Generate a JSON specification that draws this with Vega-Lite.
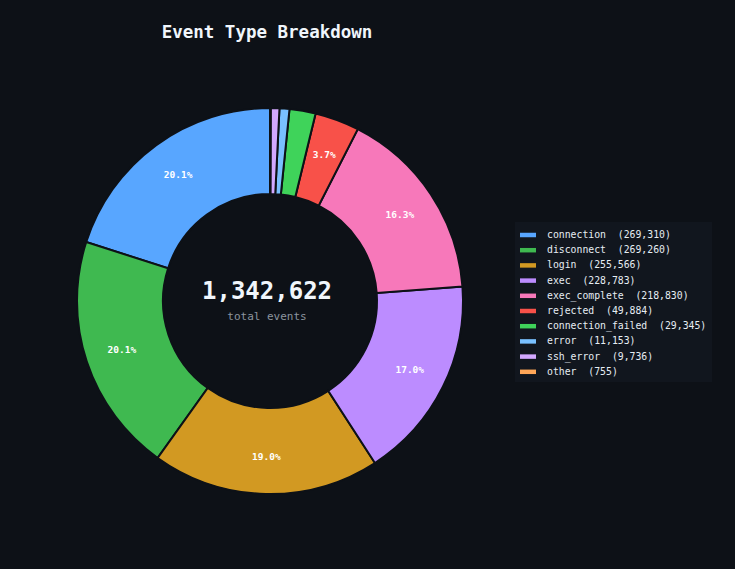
{
  "$schema": "https://vega.github.io/schema/vega-lite/v6.json",
  "description": "Donut chart of event types with total in the hole.",
  "background": "#0d1117",
  "autosize": {"type": "none"},
  "padding": {"left": 0, "top": 60, "right": 195, "bottom": 27},
  "width": 540,
  "height": 482,
  "title": {
    "text": "Event Type Breakdown",
    "font": "DejaVu Sans Mono",
    "fontSize": 17.5,
    "fontWeight": "bold",
    "color": "#f0f6fc",
    "anchor": "middle",
    "frame": "group",
    "offset": 19,
    "dx": -3
  },
  "data": {
    "values": [
      {"type": "connection", "rank": 1, "count": 269310, "label": "connection\u00a0\u00a0(269,310)", "pct": "20.1%"},
      {"type": "disconnect", "rank": 2, "count": 269260, "label": "disconnect\u00a0\u00a0(269,260)", "pct": "20.1%"},
      {"type": "login", "rank": 3, "count": 255566, "label": "login\u00a0\u00a0(255,566)", "pct": "19.0%"},
      {"type": "exec", "rank": 4, "count": 228783, "label": "exec\u00a0\u00a0(228,783)", "pct": "17.0%"},
      {"type": "exec_complete", "rank": 5, "count": 218830, "label": "exec_complete\u00a0\u00a0(218,830)", "pct": "16.3%"},
      {"type": "rejected", "rank": 6, "count": 49884, "label": "rejected\u00a0\u00a0(49,884)", "pct": "3.7%"},
      {"type": "connection_failed", "rank": 7, "count": 29345, "label": "connection_failed\u00a0\u00a0(29,345)", "pct": ""},
      {"type": "error", "rank": 8, "count": 11153, "label": "error\u00a0\u00a0(11,153)", "pct": ""},
      {"type": "ssh_error", "rank": 9, "count": 9736, "label": "ssh_error\u00a0\u00a0(9,736)", "pct": ""},
      {"type": "other", "rank": 10, "count": 755, "label": "other\u00a0\u00a0(755)", "pct": ""}
    ]
  },
  "encoding": {
    "theta": {"field": "count", "type": "quantitative", "stack": true},
    "order": {"field": "rank", "type": "quantitative", "sort": "descending"}
  },
  "layer": [
    {
      "mark": {"type": "arc", "outerRadius": 193, "innerRadius": 107, "stroke": "#0d1117", "strokeWidth": 2},
      "encoding": {
        "color": {
          "field": "label",
          "type": "nominal",
          "sort": null,
          "scale": {
            "domain": [
              "connection\u00a0\u00a0(269,310)",
              "disconnect\u00a0\u00a0(269,260)",
              "login\u00a0\u00a0(255,566)",
              "exec\u00a0\u00a0(228,783)",
              "exec_complete\u00a0\u00a0(218,830)",
              "rejected\u00a0\u00a0(49,884)",
              "connection_failed\u00a0\u00a0(29,345)",
              "error\u00a0\u00a0(11,153)",
              "ssh_error\u00a0\u00a0(9,736)",
              "other\u00a0\u00a0(755)"
            ],
            "range": ["#58a6ff", "#3fb950", "#d29922", "#bc8cff", "#f778ba", "#f85149", "#3fd35a", "#79c0ff", "#d2a8ff", "#ffa657"]
          },
          "legend": {
            "title": null,
            "orient": "none",
            "legendX": 515,
            "legendY": 162,
            "fillColor": "#11161e",
            "padding": 5,
            "symbolType": "M-1,-0.28H1V0.28H-1Z",
            "symbolSize": 256,
            "symbolStrokeWidth": 0,
            "labelOffset": 11,
            "labelFont": "DejaVu Sans Mono",
            "labelFontSize": 9.8,
            "labelColor": "#e6edf3",
            "labelLimit": 300,
            "rowPadding": 2.2
          }
        }
      }
    },
    {
      "mark": {"type": "text", "radius": 156, "font": "DejaVu Sans Mono", "fontSize": 9.5, "fontWeight": "bold", "color": "#ffffff"},
      "encoding": {"text": {"field": "pct", "type": "nominal"}}
    },
    {
      "data": {"values": [{"big": "1,342,622", "small": "total events"}]},
      "layer": [
        {
          "mark": {"type": "text", "font": "DejaVu Sans Mono", "fontSize": 24, "fontWeight": "bold", "color": "#f0f6fc", "baseline": "middle", "dx": -3, "dy": -9},
          "encoding": {"text": {"field": "big", "type": "nominal"}, "theta": null, "order": null}
        },
        {
          "mark": {"type": "text", "font": "DejaVu Sans Mono", "fontSize": 11, "color": "#8b949e", "baseline": "middle", "dx": -3, "dy": 16},
          "encoding": {"text": {"field": "small", "type": "nominal"}, "theta": null, "order": null}
        }
      ]
    }
  ],
  "config": {
    "view": {"stroke": null},
    "font": "DejaVu Sans Mono"
  }
}
